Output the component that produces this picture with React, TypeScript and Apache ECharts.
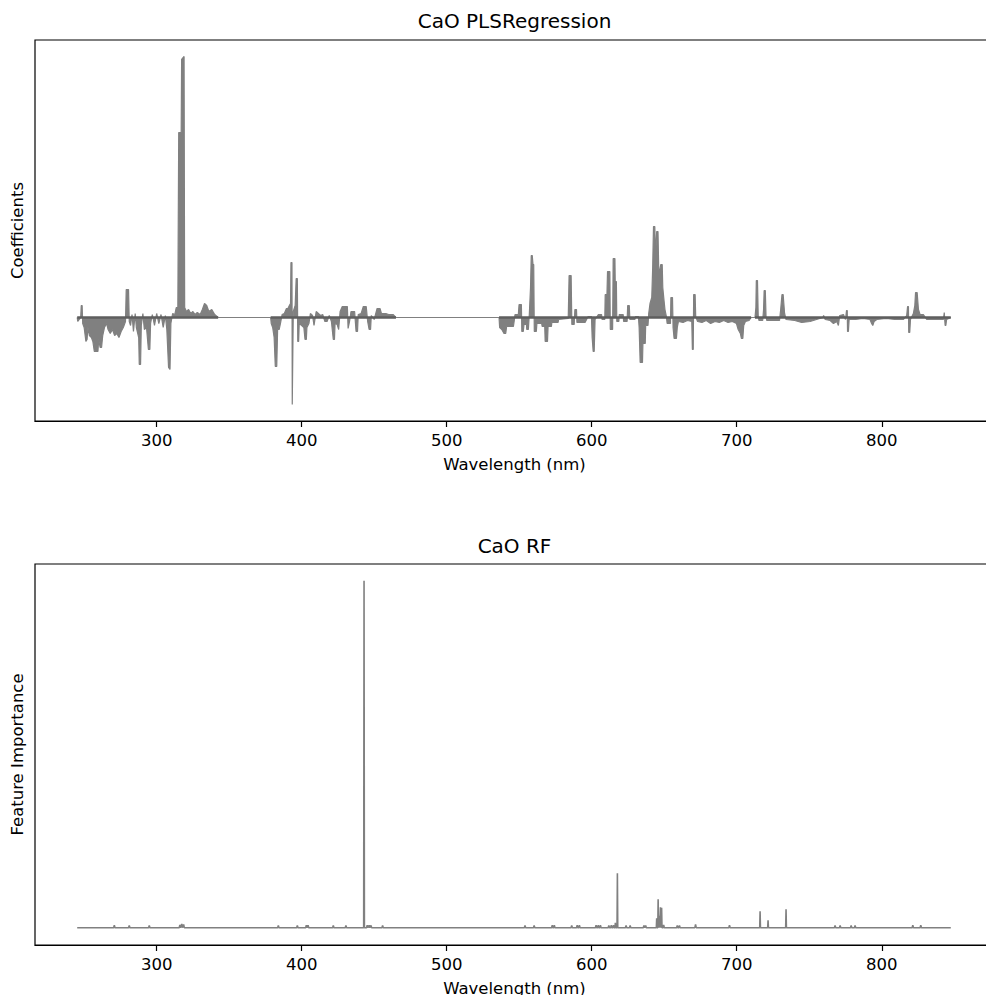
import React, { useEffect, useRef } from "react";
import * as echarts from "echarts";

// ---------- axis ----------
const X_TICKS = [300, 400, 500, 600, 700, 800];
const X_MIN = 216.1;
const X_MAX = 877.4;

// ---------- PLS regression coefficients (wavelength nm, coefficient) ----------
const PLS_SEG1: [number, number][] = [
  [245.2, 0], [245.6, -0.004], [247.6, 0.0], [248.0, 0.012], [248.6, 0.012], [249.0, -0.006],
  [250.0, -0.010], [251.2, -0.024], [252.0, -0.022], [252.6, -0.010], [253.6, -0.018], [255.0, -0.020],
  [256.0, -0.024], [257.0, -0.034], [259.5, -0.034], [260.0, -0.022], [261.0, -0.030], [262.0, -0.030],
  [262.8, -0.018], [264.0, -0.010], [265.5, -0.006], [266.5, -0.012], [268.0, -0.016], [269.5, -0.012],
  [271.0, -0.018], [272.5, -0.016], [274.0, -0.020], [275.5, -0.014], [277.0, -0.010], [278.5, -0.004],
  [279.0, 0.028], [280.6, 0.028], [281.1, -0.004], [282.0, -0.008], [283.0, 0.003], [284.0, -0.014],
  [285.2, 0.004], [286.0, -0.010], [287.6, -0.020], [288.0, -0.047], [288.9, -0.047], [289.4, -0.008],
  [290.5, 0.004], [291.5, -0.012], [293.0, -0.010], [294.3, -0.032], [295.3, -0.032], [295.8, -0.006],
  [297.0, 0.003], [298.5, -0.008], [300.0, 0.004], [301.5, -0.006], [303.0, 0.003], [304.5, -0.010],
  [306.0, 0.002], [307.0, -0.012], [308.2, -0.050], [309.2, -0.052], [309.8, -0.006], [311.0, 0.004],
  [312.5, 0.003], [313.5, 0.010], [314.6, 0.010], [315.2, 0.185], [316.9, 0.185], [317.2, 0.258],
  [318.9, 0.261], [319.3, 0.010], [320.5, 0.006], [322.0, 0.008], [323.5, 0.004], [325.0, 0.006],
  [326.5, 0.003], [328.0, 0.005], [330.0, 0.003], [331.5, 0.008], [333.0, 0.014], [334.5, 0.012],
  [336.0, 0.006], [338.0, 0.008], [340.0, 0.003], [342.4, 0],
];

const PLS_SEG2: [number, number][] = [
  [378.6, 0], [379.0, -0.006], [380.0, -0.010], [381.0, -0.020], [381.8, -0.049], [382.8, -0.049],
  [383.4, -0.012], [384.5, -0.012], [385.5, -0.005], [386.5, 0.003], [388.0, 0.004], [389.5, 0.009],
  [390.5, 0.009], [391.5, 0.012], [392.3, 0.014], [392.6, 0.055], [393.3, 0.055], [393.5, -0.087],
  [393.9, -0.087], [394.2, 0.006], [395.5, 0.012], [396.2, 0.039], [397.0, 0.039], [397.3, -0.024],
  [397.9, -0.024], [398.3, -0.006], [400.0, -0.008], [401.5, -0.010], [402.3, -0.022], [403.2, -0.022],
  [403.6, -0.010], [405.0, -0.006], [406.0, 0.004], [407.5, 0.002], [408.5, -0.008], [410.0, 0.006],
  [411.5, 0.004], [413.0, 0.002], [414.5, 0.003], [416.0, -0.004], [417.5, -0.004], [419.0, 0.002],
  [420.5, -0.004], [421.8, -0.022], [422.6, -0.022], [423.0, -0.006], [424.5, -0.007], [425.5, -0.012],
  [426.5, 0.006], [428.0, 0.011], [431.5, 0.011], [432.0, -0.011], [433.0, -0.004], [434.0, 0.006],
  [436.5, 0.006], [437.5, -0.014], [438.5, -0.014], [439.0, 0.003], [441.0, 0.004], [442.5, 0.011],
  [444.5, 0.011], [445.5, -0.004], [446.5, -0.012], [447.5, -0.012], [448.0, 0.002], [450.0, -0.002],
  [452.0, 0.009], [454.0, 0.009], [455.0, 0.004], [458.0, 0.004], [460.0, 0.003], [463.0, 0.003],
  [465.0, 0],
];

const PLS_SEG3: [number, number][] = [
  [536.1, 0], [536.5, -0.010], [538.0, -0.012], [539.5, -0.016], [540.7, -0.016], [541.3, -0.009],
  [546.0, -0.009], [546.5, -0.004], [547.1, 0.003], [549.4, 0.003], [549.9, 0.013], [551.5, 0.013],
  [551.8, -0.014], [552.8, -0.014], [553.3, -0.007], [555.0, -0.007], [555.2, -0.012], [556.3, -0.012],
  [557.0, 0.004], [557.8, 0.030], [558.3, 0.062], [559.0, 0.062], [559.5, 0.053], [560.0, 0.053],
  [560.4, -0.014], [561.8, -0.014], [562.2, -0.006], [565.5, -0.006], [565.8, -0.009], [567.6, -0.009],
  [567.9, -0.024], [569.5, -0.024], [569.9, -0.009], [572.2, -0.009], [572.5, -0.005], [576.8, -0.005],
  [577.2, -0.002], [583.8, -0.001], [584.4, 0.042], [585.8, 0.042], [586.3, -0.007], [587.9, -0.007],
  [588.4, 0.008], [589.5, 0.008], [589.8, -0.005], [595.4, -0.005], [597.5, 0.001], [599.8, 0.001],
  [600.3, -0.020], [601.0, -0.034], [601.7, -0.034], [602.3, -0.002], [604.6, 0.003], [606.8, 0.003],
  [607.1, -0.002], [609.0, -0.002], [609.3, 0.023], [610.5, 0.023], [610.9, 0.046], [612.5, 0.046],
  [612.8, -0.012], [614.4, -0.012], [614.8, 0.059], [616.0, 0.059], [616.2, 0.036], [617.0, 0.036],
  [617.3, -0.004], [618.7, -0.004], [619.0, 0.003], [621.7, 0.003], [622.0, -0.004], [624.4, -0.004],
  [624.8, 0.012], [625.9, 0.012], [626.3, -0.002], [629.8, -0.002], [630.2, 0.001], [632.2, 0.001],
  [632.7, -0.010], [633.4, -0.045], [635.0, -0.045], [635.3, -0.026], [636.9, -0.026], [637.2, -0.008],
  [638.8, -0.008], [639.3, 0.004], [640.2, 0.014], [641.4, 0.020], [642.0, 0.048], [642.6, 0.091],
  [643.5, 0.091], [644.0, 0.060], [644.8, 0.086], [645.7, 0.086], [646.2, 0.048], [647.0, 0.048],
  [647.6, 0.053], [648.6, 0.053], [649.0, 0.030], [649.8, 0.018], [650.5, 0.008], [651.5, 0.001],
  [652.0, -0.006], [654.3, -0.006], [654.6, 0.020], [655.7, 0.020], [656.1, -0.010], [656.8, -0.021],
  [658.4, -0.021], [659.0, -0.010], [659.8, -0.004], [663.0, -0.005], [666.0, -0.003], [669.0, -0.004],
  [669.4, -0.032], [670.0, -0.032], [670.3, 0.023], [671.3, 0.023], [671.7, 0.001], [673.0, -0.004],
  [676.0, -0.005], [679.0, -0.003], [682.0, -0.006], [685.0, -0.004], [688.0, -0.005], [691.0, -0.003],
  [694.0, -0.005], [697.0, -0.004], [699.8, -0.006], [701.0, -0.012], [702.5, -0.016], [703.2, -0.021],
  [704.2, -0.021], [704.8, -0.008], [706.0, -0.004], [708.5, -0.003], [709.9, 0], [712.6, 0],
  [713.2, 0.010], [713.5, 0.037], [714.3, 0.037], [714.8, 0.002], [715.3, -0.003], [717.9, -0.003],
  [718.5, 0.008], [718.9, 0.027], [719.7, 0.027], [720.2, 0.001], [720.7, -0.003], [729.5, -0.003],
  [730.3, 0.008], [731.2, 0.023], [732.0, 0.023], [733.0, 0.004], [734.0, -0.002], [740.0, -0.003],
  [744.8, -0.005], [750.6, -0.004], [755.0, -0.002], [759.5, 0.0], [759.9, 0.002], [761.0, -0.002],
  [764.4, -0.003], [766.7, -0.006], [769.0, -0.004], [770.1, -0.008], [771.0, 0.002], [773.6, 0.003],
  [775.0, -0.002], [775.7, 0.007], [776.2, 0.007], [776.4, -0.014], [777.0, -0.014], [777.5, -0.002],
  [782.0, -0.002], [787.0, -0.001], [791.9, -0.002], [793.0, -0.006], [793.8, -0.008], [794.7, -0.004],
  [796.6, -0.002], [803.0, -0.001], [809.0, -0.002], [815.0, -0.002], [817.2, 0.002], [817.8, 0.011],
  [818.4, 0.011], [818.6, -0.015], [819.3, -0.015], [819.8, -0.002], [821.8, 0.004], [822.8, 0.012],
  [823.3, 0.025], [824.4, 0.025], [825.3, 0.008], [826.4, 0.003], [828.7, 0.003], [831.0, -0.002],
  [837.0, -0.002], [842.5, -0.002], [843.1, 0.005], [843.5, 0.005], [843.7, -0.008], [844.2, -0.008],
  [844.7, -0.002], [847.6, 0],
];

// spectrometer ranges (where the dense coefficient band sits)
const PLS_SEGMENTS: [number, number][] = [
  [245.2, 342.4],
  [378.6, 465.0],
  [536.1, 709.9],
  [712.6, 847.6],
];

// ---------- Random forest feature importance ----------
const RF_RANGE: [number, number] = [245.2, 847.6];
const RF_WAVELENGTHS = [
  270.8, 281.1, 294.9, 316.0, 317.3, 318.6, 383.9, 397.0, 403.2, 404.4, 421.8, 430.5,
  443.0, 445.2, 446.5, 447.8, 455.8, 554.0, 560.3, 572.8, 574.2, 586.2, 590.0, 591.5,
  603.0, 604.5, 606.0, 611.8, 613.5, 615.0, 616.3, 617.7, 623.7, 626.5, 636.0, 637.2,
  644.8, 645.8, 646.7, 647.4, 648.2, 649.6, 659.0, 660.5, 671.6, 695.0, 716.1, 721.6,
  734.0, 767.8, 771.3, 778.9, 781.6, 821.4, 826.9,
];
const RF_IMPORTANCE = [
  0.0012, 0.0011, 0.0011, 0.0014, 0.0019, 0.0016, 0.0011, 0.0011, 0.0012, 0.0012, 0.0011, 0.0011,
  0.1735, 0.0012, 0.0012, 0.0011, 0.0011, 0.0011, 0.0011, 0.0012, 0.0012, 0.0011, 0.0012, 0.0012,
  0.0012, 0.0012, 0.0012, 0.0011, 0.0012, 0.0012, 0.0025, 0.0272, 0.0011, 0.0011, 0.0011, 0.0011,
  0.0047, 0.0142, 0.0060, 0.0102, 0.0100, 0.0014, 0.0011, 0.0011, 0.0016, 0.0012, 0.0082, 0.0037,
  0.0092, 0.0011, 0.0011, 0.0011, 0.0011, 0.0013, 0.0013,
];

const FONT = '"DejaVu Sans", "Liberation Sans", sans-serif';
const GRAY = "#808080";

function xAxisCfg(gridIndex: number) {
  return {
    type: "value",
    gridIndex,
    min: X_MIN,
    max: X_MAX,
    name: "Wavelength (nm)",
    nameLocation: "middle",
    nameGap: 35,
    nameTextStyle: { fontFamily: FONT, fontSize: 16.5, color: "#000" },
    splitLine: { show: false },
    axisLine: { show: true, onZero: false, lineStyle: { color: "#000", width: 1.2 } },
    axisTick: {
      show: true,
      length: 6,
      inside: false,
      customValues: X_TICKS,
      lineStyle: { color: "#000", width: 1.2 },
    },
    axisLabel: {
      show: true,
      margin: 11,
      customValues: X_TICKS,
      fontFamily: FONT,
      fontSize: 16.5,
      color: "#000",
    },
  };
}

function yAxisCfg(gridIndex: number, min: number, max: number, name: string) {
  return {
    type: "value",
    gridIndex,
    min,
    max,
    name,
    nameLocation: "middle",
    nameGap: 9,
    nameRotate: 90,
    nameTextStyle: { fontFamily: FONT, fontSize: 16.5, color: "#000" },
    splitLine: { show: false },
    axisLine: { show: false },
    axisTick: { show: false },
    axisLabel: { show: false },
  };
}

export default function App() {
  const ref = useRef<HTMLDivElement>(null);

  useEffect(() => {
    if (!ref.current) return;
    const chart = echarts.init(ref.current, undefined, { renderer: "svg" });

    const plsData = [...PLS_SEG1, ...PLS_SEG2, ...PLS_SEG3];

    const rfPoints: [number, number][] = [];
    RF_WAVELENGTHS.forEach((w, i) => {
      const half = RF_IMPORTANCE[i] < 0.002 ? 0.45 : 0.25;
      rfPoints.push([w - half, 0], [w, RF_IMPORTANCE[i]], [w + half, 0]);
    });
    rfPoints.sort((a, b) => a[0] - b[0]);
    const rfData: [number, number][] = [[RF_RANGE[0], 0], ...rfPoints, [RF_RANGE[1], 0]];

    const baselineSeries = PLS_SEGMENTS.map(([a, b]) => ({
      type: "line",
      xAxisIndex: 0,
      yAxisIndex: 0,
      data: [
        [a, 0],
        [b, 0],
      ],
      showSymbol: false,
      silent: true,
      z: 3,
      lineStyle: { color: "#5e5e5e", width: 2.6 },
    }));

    const gridBase = {
      left: 35,
      width: 959,
      height: 381,
      show: true,
      borderColor: "#000",
      borderWidth: 1.2,
      containLabel: false,
      outerBoundsMode: "none",
    };

    chart.setOption({
      animation: false,
      backgroundColor: "#fff",
      grid: [
        { ...gridBase, top: 40 },
        { ...gridBase, top: 564 },
      ],
      xAxis: [xAxisCfg(0), xAxisCfg(1)],
      yAxis: [
        yAxisCfg(0, -0.1035, 0.2775, "Coefficients"),
        yAxisCfg(1, -0.00865, 0.18185, "Feature Importance"),
      ],
      graphic: [
        {
          type: "text",
          x: 514.5,
          y: 21,
          style: {
            text: "CaO PLSRegression",
            fontFamily: FONT,
            fontSize: 20,
            fill: "#000",
            align: "center",
            verticalAlign: "middle",
          },
        },
        {
          type: "text",
          x: 514.5,
          y: 546,
          style: {
            text: "CaO RF",
            fontFamily: FONT,
            fontSize: 20,
            fill: "#000",
            align: "center",
            verticalAlign: "middle",
          },
        },
      ],
      series: [
        {
          type: "line",
          name: "PLS coefficients",
          xAxisIndex: 0,
          yAxisIndex: 0,
          data: plsData,
          showSymbol: false,
          z: 2,
          lineStyle: { color: GRAY, width: 1.2 },
          areaStyle: { color: GRAY, opacity: 1, origin: 0 },
        },
        ...baselineSeries,
        {
          type: "line",
          name: "RF importance",
          xAxisIndex: 1,
          yAxisIndex: 1,
          data: rfData,
          showSymbol: false,
          lineStyle: { color: GRAY, width: 1.6 },
        },
      ],
    });

    return () => chart.dispose();
  }, []);

  return (
    <div
      ref={ref}
      style={{ position: "absolute", left: 0, top: 0, width: 986, height: 995, background: "#fff" }}
    />
  );
}
